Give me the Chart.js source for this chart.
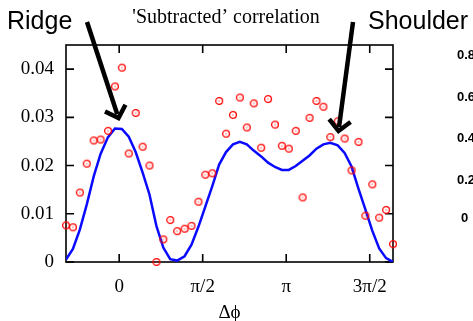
<!DOCTYPE html>
<html>
<head>
<meta charset="utf-8">
<script src="https://cdn.jsdelivr.net/npm/chart.js@4.4.1/dist/chart.umd.min.js"></script>
<style>
  html, body { margin: 0; padding: 0; background: #fff; }
  #wrap { width: 473px; height: 321px; position: relative; }
</style>
</head>
<body>
<div id="wrap"><canvas id="corr"></canvas></div>
<script>
// delta phi bin centres (rad)
const phi = [-1.00, -0.87, -0.74, -0.61, -0.48, -0.35, -0.21, -0.08, 0.05, 0.18,
  0.31, 0.44, 0.57, 0.70, 0.83, 0.96, 1.09, 1.23, 1.36, 1.49,
  1.62, 1.75, 1.88, 2.01, 2.14, 2.27, 2.40, 2.53, 2.67, 2.80,
  2.93, 3.06, 3.19, 3.32, 3.45, 3.58, 3.71, 3.84, 3.97, 4.11,
  4.24, 4.37, 4.50, 4.63, 4.76, 4.89, 5.02, 5.15];

// subtracted correlation (red circles)
const measured = [0.0076, 0.0072, 0.0144, 0.0204, 0.0252, 0.0254, 0.0272, 0.0364, 0.0403, 0.0225,
  0.0309, 0.0239, 0.0200, 0.0000, 0.0047, 0.0087, 0.0064, 0.0069, 0.0075, 0.0125,
  0.0181, 0.0184, 0.0334, 0.0266, 0.0305, 0.0341, 0.0279, 0.0329, 0.0237, 0.0338,
  0.0285, 0.0241, 0.0235, 0.0272, 0.0134, 0.0299, 0.0334, 0.0322, 0.0259, 0.0292,
  0.0256, 0.0190, 0.0249, 0.0096, 0.0161, 0.0092, 0.0108, 0.0037];

// model curve (blue line)
const fitCurve = [0.0005, 0.0027, 0.0067, 0.0119, 0.0177, 0.0224, 0.0259, 0.0277, 0.0276, 0.0260,
  0.0228, 0.0186, 0.0140, 0.0075, 0.0030, 0.0006, 0.0003, 0.0012, 0.0036, 0.0073,
  0.0115, 0.0157, 0.0202, 0.0228, 0.0244, 0.0249, 0.0244, 0.0231, 0.0219, 0.0206,
  0.0197, 0.0191, 0.0191, 0.0199, 0.0210, 0.0221, 0.0235, 0.0244, 0.0247, 0.0242,
  0.0226, 0.0198, 0.0152, 0.0109, 0.0065, 0.0028, 0.0008, 0.0000];

const xTicks = [0, Math.PI / 2, Math.PI, 3 * Math.PI / 2];
const xTickLabels = ["0", "π/2", "π", "3π/2"];
const yTicks = [0, 0.01, 0.02, 0.03, 0.04];
// labels of the neighbouring panel, cut off at the right edge
const sideLabels = ["0.8", "0.6", "0.4", "0.2", "0"];

const serif = "'Liberation Serif', 'Times New Roman', serif";

function ringDot() {
  const c = document.createElement("canvas");
  c.width = 10; c.height = 10;
  const g = c.getContext("2d");
  g.strokeStyle = "#ff0000";
  g.lineWidth = 1.3;
  g.beginPath();
  g.arc(5, 5, 3.4, 0, Math.PI * 2);
  g.stroke();
  g.fillStyle = "#ff0000";
  g.fillRect(4.5, 4.5, 1, 1);
  return c;
}

function arrow(ctx, x0, y0, x1, y1) {
  const a = Math.atan2(y1 - y0, x1 - x0);
  const L = 15, spread = 0.8;
  ctx.beginPath();
  ctx.moveTo(x0, y0);
  ctx.lineTo(x1 - 4 * Math.cos(a), y1 - 4 * Math.sin(a));
  ctx.stroke();
  ctx.beginPath();
  ctx.moveTo(x1 - L * Math.cos(a - spread), y1 - L * Math.sin(a - spread));
  ctx.lineTo(x1, y1);
  ctx.lineTo(x1 - L * Math.cos(a + spread), y1 - L * Math.sin(a + spread));
  ctx.stroke();
}

const frame = {
  id: "frame",
  beforeDatasetsDraw(chart) {
    const { ctx, chartArea: ca, scales } = chart;
    ctx.save();
    ctx.strokeStyle = "#000";
    ctx.lineWidth = 1.6;
    ctx.strokeRect(ca.left, ca.top, ca.right - ca.left, ca.bottom - ca.top);
    ctx.beginPath();
    xTicks.forEach(v => {
      const px = scales.x.getPixelForValue(v);
      ctx.moveTo(px, ca.bottom); ctx.lineTo(px, ca.bottom - 8);
      ctx.moveTo(px, ca.top); ctx.lineTo(px, ca.top + 8);
    });
    yTicks.forEach(v => {
      const py = scales.y.getPixelForValue(v);
      ctx.moveTo(ca.left, py); ctx.lineTo(ca.left + 8, py);
      ctx.moveTo(ca.right, py); ctx.lineTo(ca.right - 8, py);
    });
    ctx.stroke();
    ctx.restore();
  },
  afterDraw(chart) {
    const ctx = chart.ctx;
    ctx.save();
    ctx.fillStyle = "#000";
    ctx.font = "25px 'Liberation Sans', Arial, sans-serif";
    ctx.textBaseline = "alphabetic";
    ctx.textAlign = "left";
    ctx.fillText("Ridge", 7, 29);
    ctx.fillText("Shoulder", 368, 29);
    ctx.font = "20px " + serif;
    ctx.textAlign = "center";
    ctx.fillText("'Subtracted’ correlation", 226, 23);
    ctx.font = "bold 13px 'Liberation Sans', Arial, sans-serif";
    ctx.textAlign = "left";
    ctx.textBaseline = "middle";
    const sideY = [55, 97, 138, 180, 218];
    sideLabels.forEach((t, i) => ctx.fillText(t, i === 4 ? 461 : 457, sideY[i]));

    ctx.strokeStyle = "#000";
    ctx.lineWidth = 4.5;
    ctx.lineCap = "butt";
    ctx.lineJoin = "miter";
    arrow(ctx, 87, 22, 118.5, 118);
    arrow(ctx, 353, 22, 338.5, 131);
    ctx.restore();
  }
};

new Chart(document.getElementById("corr"), {
  type: "scatter",
  data: {
    datasets: [{
      label: "fit",
      data: phi.map((p, i) => ({ x: p, y: fitCurve[i] })),
      showLine: true,
      borderColor: "#0a0aff",
      borderWidth: 2.5,
      pointRadius: 0,
      tension: 0,
      order: 2
    }, {
      label: "data",
      data: phi.map((p, i) => ({ x: p, y: measured[i] })),
      pointStyle: ringDot(),
      pointRadius: 5,
      clip: false,
      order: 1
    }]
  },
  options: {
    responsive: true,
    maintainAspectRatio: false,
    animation: false,
    layout: { padding: { top: 45, right: 80, left: 0, bottom: 0 } },
    plugins: { legend: { display: false }, tooltip: { enabled: false } },
    scales: {
      x: {
        type: "linear",
        min: -1,
        max: 5.15,
        grid: { display: false },
        border: { display: false },
        afterBuildTicks: s => { s.ticks = xTicks.map(v => ({ value: v })); },
        afterFit: s => { s.height = 59; },
        ticks: {
          color: "#000",
          padding: 6,
          maxRotation: 0,
          font: { family: serif, size: 19 },
          callback: (v, i) => xTickLabels[i]
        },
        title: {
          display: true,
          text: "Δϕ",
          color: "#000",
          padding: { top: 0, bottom: -3 },
          font: { family: serif, size: 19 }
        }
      },
      y: {
        type: "linear",
        min: 0,
        max: 0.045,
        grid: { display: false },
        border: { display: false },
        afterBuildTicks: s => { s.ticks = yTicks.map(v => ({ value: v })); },
        afterFit: s => { s.width = 66; },
        ticks: {
          color: "#000",
          padding: 4,
          font: { family: serif, size: 19 },
          callback: v => v === 0 ? "0" : v.toFixed(2)
        }
      }
    }
  },
  plugins: [frame]
});
</script>
</body>
</html>
